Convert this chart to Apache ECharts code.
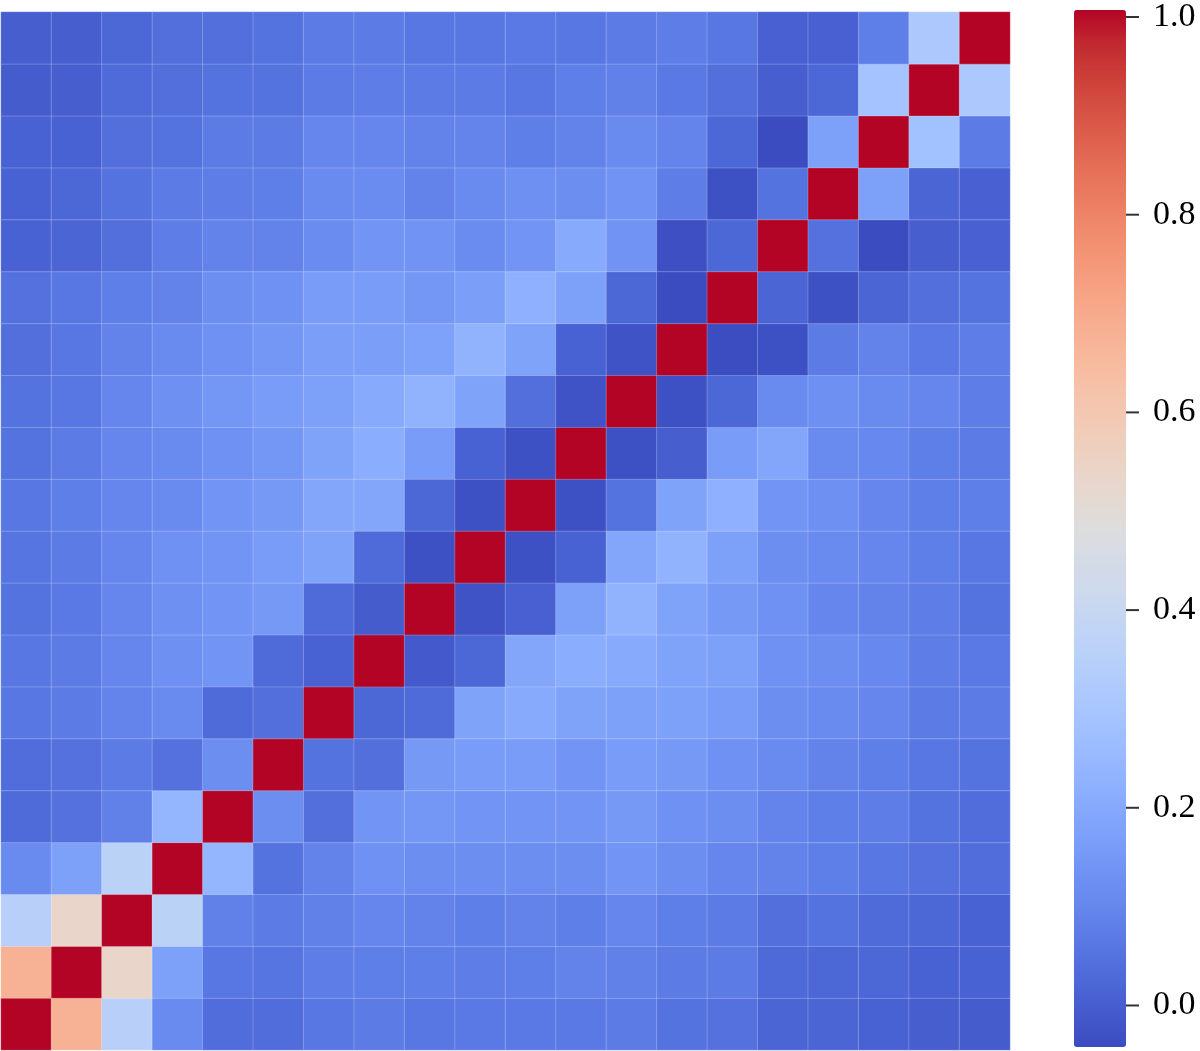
<!DOCTYPE html>
<html>
<head>
<meta charset="utf-8">
<script src="https://cdn.jsdelivr.net/npm/echarts@6/dist/echarts.min.js"></script>
<style>html,body{margin:0;padding:0;background:#fff;}#main{width:1200px;height:1051px;}</style>
</head>
<body>
<div id="main"></div>
<script>
// categories (20 x 20 matrix, x from left, y from bottom)
const xCats = ['0','1','2','3','4','5','6','7','8','9','10','11','12','13','14','15','16','17','18','19'];
const yCats = ['0','1','2','3','4','5','6','7','8','9','10','11','12','13','14','15','16','17','18','19'];
// rows of values, named by y index (top row = y19)
const y19 = [0.0, 0.0, 0.02, 0.04, 0.04, 0.05, 0.07, 0.07, 0.06, 0.06, 0.065, 0.06, 0.07, 0.075, 0.06, 0.005, 0.005, 0.08, 0.31, 1.0];
const y18 = [-0.005, 0.0, 0.03, 0.04, 0.05, 0.05, 0.07, 0.075, 0.07, 0.07, 0.06, 0.08, 0.085, 0.065, 0.04, 0.0, 0.02, 0.29, 1.0, 0.31];
const y17 = [0.01, 0.01, 0.04, 0.05, 0.07, 0.07, 0.10, 0.10, 0.09, 0.095, 0.08, 0.09, 0.11, 0.095, 0.02, -0.042, 0.17, 1.0, 0.28, 0.07];
const y16 = [0.01, 0.02, 0.05, 0.07, 0.075, 0.08, 0.11, 0.115, 0.09, 0.11, 0.125, 0.12, 0.135, 0.075, -0.03, 0.05, 1.0, 0.17, 0.015, 0.005];
const y15 = [0.01, 0.015, 0.04, 0.075, 0.09, 0.09, 0.115, 0.14, 0.135, 0.115, 0.14, 0.2, 0.135, -0.035, 0.02, 1.0, 0.045, -0.042, 0.0, 0.005];
const y14 = [0.045, 0.06, 0.08, 0.09, 0.12, 0.13, 0.16, 0.16, 0.145, 0.165, 0.22, 0.17, 0.02, -0.042, 1.0, 0.015, -0.03, 0.015, 0.04, 0.05];
const y13 = [0.04, 0.06, 0.09, 0.11, 0.13, 0.145, 0.165, 0.165, 0.175, 0.23, 0.18, 0.01, -0.025, 1.0, -0.04, -0.03, 0.07, 0.09, 0.065, 0.075];
const y12 = [0.05, 0.06, 0.10, 0.125, 0.145, 0.16, 0.17, 0.20, 0.23, 0.18, 0.04, -0.025, 1.0, -0.03, 0.02, 0.11, 0.125, 0.11, 0.10, 0.075];
const y11 = [0.05, 0.07, 0.10, 0.11, 0.13, 0.145, 0.18, 0.21, 0.16, 0.01, -0.03, 1.0, -0.03, 0.0, 0.16, 0.19, 0.11, 0.105, 0.08, 0.07];
const y10 = [0.06, 0.08, 0.10, 0.11, 0.14, 0.15, 0.19, 0.19, 0.02, -0.03, 1.0, -0.03, 0.05, 0.18, 0.22, 0.14, 0.125, 0.10, 0.08, 0.08];
const y9  = [0.055, 0.07, 0.10, 0.13, 0.14, 0.16, 0.18, 0.03, -0.03, 1.0, -0.03, 0.01, 0.19, 0.23, 0.17, 0.12, 0.11, 0.10, 0.08, 0.06];
const y8  = [0.05, 0.065, 0.10, 0.125, 0.14, 0.15, 0.03, -0.005, 1.0, -0.025, 0.005, 0.17, 0.23, 0.18, 0.15, 0.13, 0.10, 0.09, 0.075, 0.05];
const y7  = [0.06, 0.07, 0.10, 0.125, 0.14, 0.03, 0.01, 1.0, -0.01, 0.02, 0.19, 0.21, 0.20, 0.18, 0.17, 0.13, 0.12, 0.105, 0.075, 0.065];
const y6  = [0.06, 0.07, 0.095, 0.11, 0.03, 0.04, 1.0, 0.02, 0.03, 0.18, 0.20, 0.18, 0.17, 0.17, 0.16, 0.12, 0.11, 0.10, 0.07, 0.07];
const y5  = [0.035, 0.045, 0.07, 0.045, 0.12, 1.0, 0.05, 0.04, 0.15, 0.16, 0.16, 0.14, 0.16, 0.15, 0.13, 0.11, 0.09, 0.08, 0.06, 0.05];
const y4  = [0.03, 0.045, 0.085, 0.24, 1.0, 0.12, 0.04, 0.14, 0.145, 0.14, 0.14, 0.14, 0.15, 0.13, 0.12, 0.095, 0.08, 0.075, 0.05, 0.035];
const y3  = [0.11, 0.17, 0.36, 1.0, 0.24, 0.05, 0.09, 0.13, 0.12, 0.12, 0.12, 0.12, 0.14, 0.12, 0.10, 0.09, 0.08, 0.06, 0.045, 0.035];
const y2  = [0.35, 0.53, 1.0, 0.36, 0.085, 0.07, 0.085, 0.10, 0.09, 0.08, 0.09, 0.08, 0.10, 0.08, 0.07, 0.04, 0.05, 0.03, 0.02, 0.01];
const y1  = [0.67, 1.0, 0.53, 0.17, 0.06, 0.055, 0.075, 0.08, 0.08, 0.075, 0.08, 0.09, 0.085, 0.07, 0.07, 0.025, 0.02, 0.02, 0.01, 0.01];
const y0  = [1.0, 0.67, 0.35, 0.11, 0.035, 0.035, 0.06, 0.07, 0.06, 0.065, 0.065, 0.065, 0.07, 0.05, 0.045, 0.015, 0.015, 0.01, 0.0, -0.005];
// colorbar ticks
const cbTicks = [0.0, 0.2, 0.4, 0.6, 0.8, 1.0];
const vMin = -0.042, vMax = 1.0;

const rowsByY = [y0,y1,y2,y3,y4,y5,y6,y7,y8,y9,y10,y11,y12,y13,y14,y15,y16,y17,y18,y19];
const data = [];
rowsByY.forEach((row, yi) => row.forEach((v, xi) => data.push([xi, yi, v])));
const tickMarks = cbTicks.map(v => [1, v]);

const coolwarm = ['#3b4cc0','#445acc','#4d68d7','#5775e1','#6282ea','#6c8ef1','#779af7','#82a5fb','#8db0fe','#98b9ff','#a3c2ff','#aec9fd','#b8d0f9','#c2d5f4','#ccd9ee','#d5dbe6','#dddddd','#e5d8d1','#ecd3c5','#f1ccb8','#f5c4ad','#f7bba0','#f7b194','#f7a687','#f49a7b','#f18d6f','#ec7f63','#e57058','#de604d','#d55042','#cb3e38','#c0282f','#b40426'];

const chart = echarts.init(document.getElementById('main'));
chart.setOption({
  animation: false,
  backgroundColor: '#ffffff',
  grid: [
    {left: 1, top: 12, width: 1009, height: 1038},
    {left: 1074, top: 10, width: 52, height: 1037}
  ],
  xAxis: [
    {type: 'category', data: xCats, gridIndex: 0, show: false},
    {type: 'value', gridIndex: 1, show: false, min: 0, max: 1}
  ],
  yAxis: [
    {type: 'category', data: yCats, gridIndex: 0, show: false},
    {type: 'value', gridIndex: 1, min: vMin, max: vMax, position: 'right',
     axisLine: {show: false}, splitLine: {show: false},
     axisTick: {show: false},
     axisLabel: {show: true, customValues: cbTicks, margin: 27,
       formatter: v => Number(v).toFixed(1),
       color: '#000', fontFamily: "'Liberation Serif', 'Times New Roman', serif", fontSize: 34}}
  ],
  visualMap: {
    type: 'continuous', min: vMin, max: vMax, seriesIndex: 0,
    calculable: false, show: true, orient: 'vertical',
    left: 1074, top: 10, itemWidth: 52, itemHeight: 1037, padding: 0,
    text: null, showLabel: false, hoverLink: false,
    inRange: {color: coolwarm}
  },
  series: [
    {type: 'heatmap', xAxisIndex: 0, yAxisIndex: 0, data: data,
     itemStyle: {borderColor: 'rgba(255,255,255,0.22)', borderWidth: 1},
     emphasis: {disabled: true}},
    {type: 'scatter', xAxisIndex: 1, yAxisIndex: 1, data: tickMarks, silent: true, clip: false,
     symbol: 'rect', symbolSize: [13, 2], symbolOffset: [6.5, 0],
     itemStyle: {color: '#000'}, emphasis: {disabled: true}}
  ]
});
</script>
</body>
</html>
